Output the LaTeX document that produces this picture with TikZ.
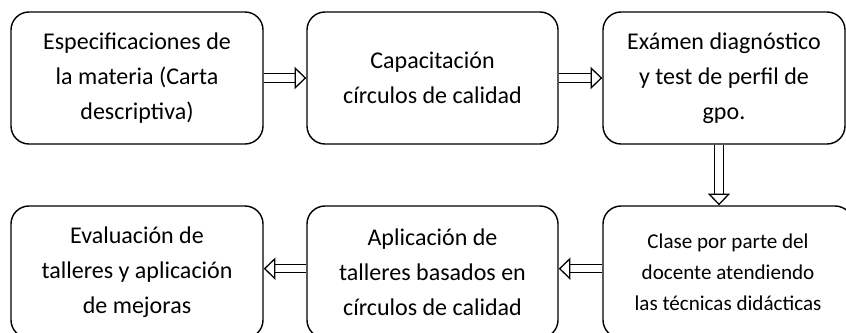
\documentclass[tikz,border=0pt]{standalone}
\usepackage{fontspec}
\setmainfont{Carlito}
\usetikzlibrary{arrows.meta}
\tikzset{
  stepbox/.style={rectangle,rounded corners=0.54cm,draw=black,line width=1.2pt,
    align=center,inner sep=0pt,minimum height=3.96cm,
    font=\fontsize{20.5}{30}\selectfont},
  hollow/.style={double,double distance=6pt,line width=1.1pt,
    -{Triangle[open,length=10pt,width=19pt]}}
}
\begin{document}
\begin{tikzpicture}
\useasboundingbox (0,0) rectangle (25.38,-9.96);
\node[stepbox,minimum width=7.56cm] (Esp) at (4.11,-2.34) {Especificaciones de\\la materia (Carta\\descriptiva)};
\node[stepbox,minimum width=7.53cm] (Cap) at (12.975,-2.34) {Capacitación\\círculos de calidad};
\node[stepbox,minimum width=7.26cm] (Exa) at (21.72,-2.34) {Exámen diagnóstico\\y test de perfil de\\gpo.};
\node[stepbox,minimum width=7.5cm,font=\fontsize{18}{26.5}\selectfont] (Cla) at (21.84,-8.16) {Clase por parte del\\docente atendiendo\\las técnicas didácticas};
\node[stepbox,minimum width=7.53cm] (Apl) at (12.975,-8.16) {Aplicación de\\talleres basados en\\círculos de calidad};
\node[stepbox,minimum width=7.56cm] (Eva) at (4.11,-8.16) {Evaluación de\\talleres y aplicación\\de mejoras};
\draw[hollow] (Esp) -- (Cap);
\draw[hollow] (Cap) -- (Exa);
\draw[hollow] ([xshift=-0.15cm]Exa.south) -- ([xshift=-0.15cm]Exa.south |- Cla.north);
\draw[hollow] ([yshift=0.1cm]Cla.west) -- ([yshift=0.1cm]Apl.east);
\draw[hollow] ([yshift=0.1cm]Apl.west) -- ([yshift=0.1cm]Eva.east);
\end{tikzpicture}
\end{document}
